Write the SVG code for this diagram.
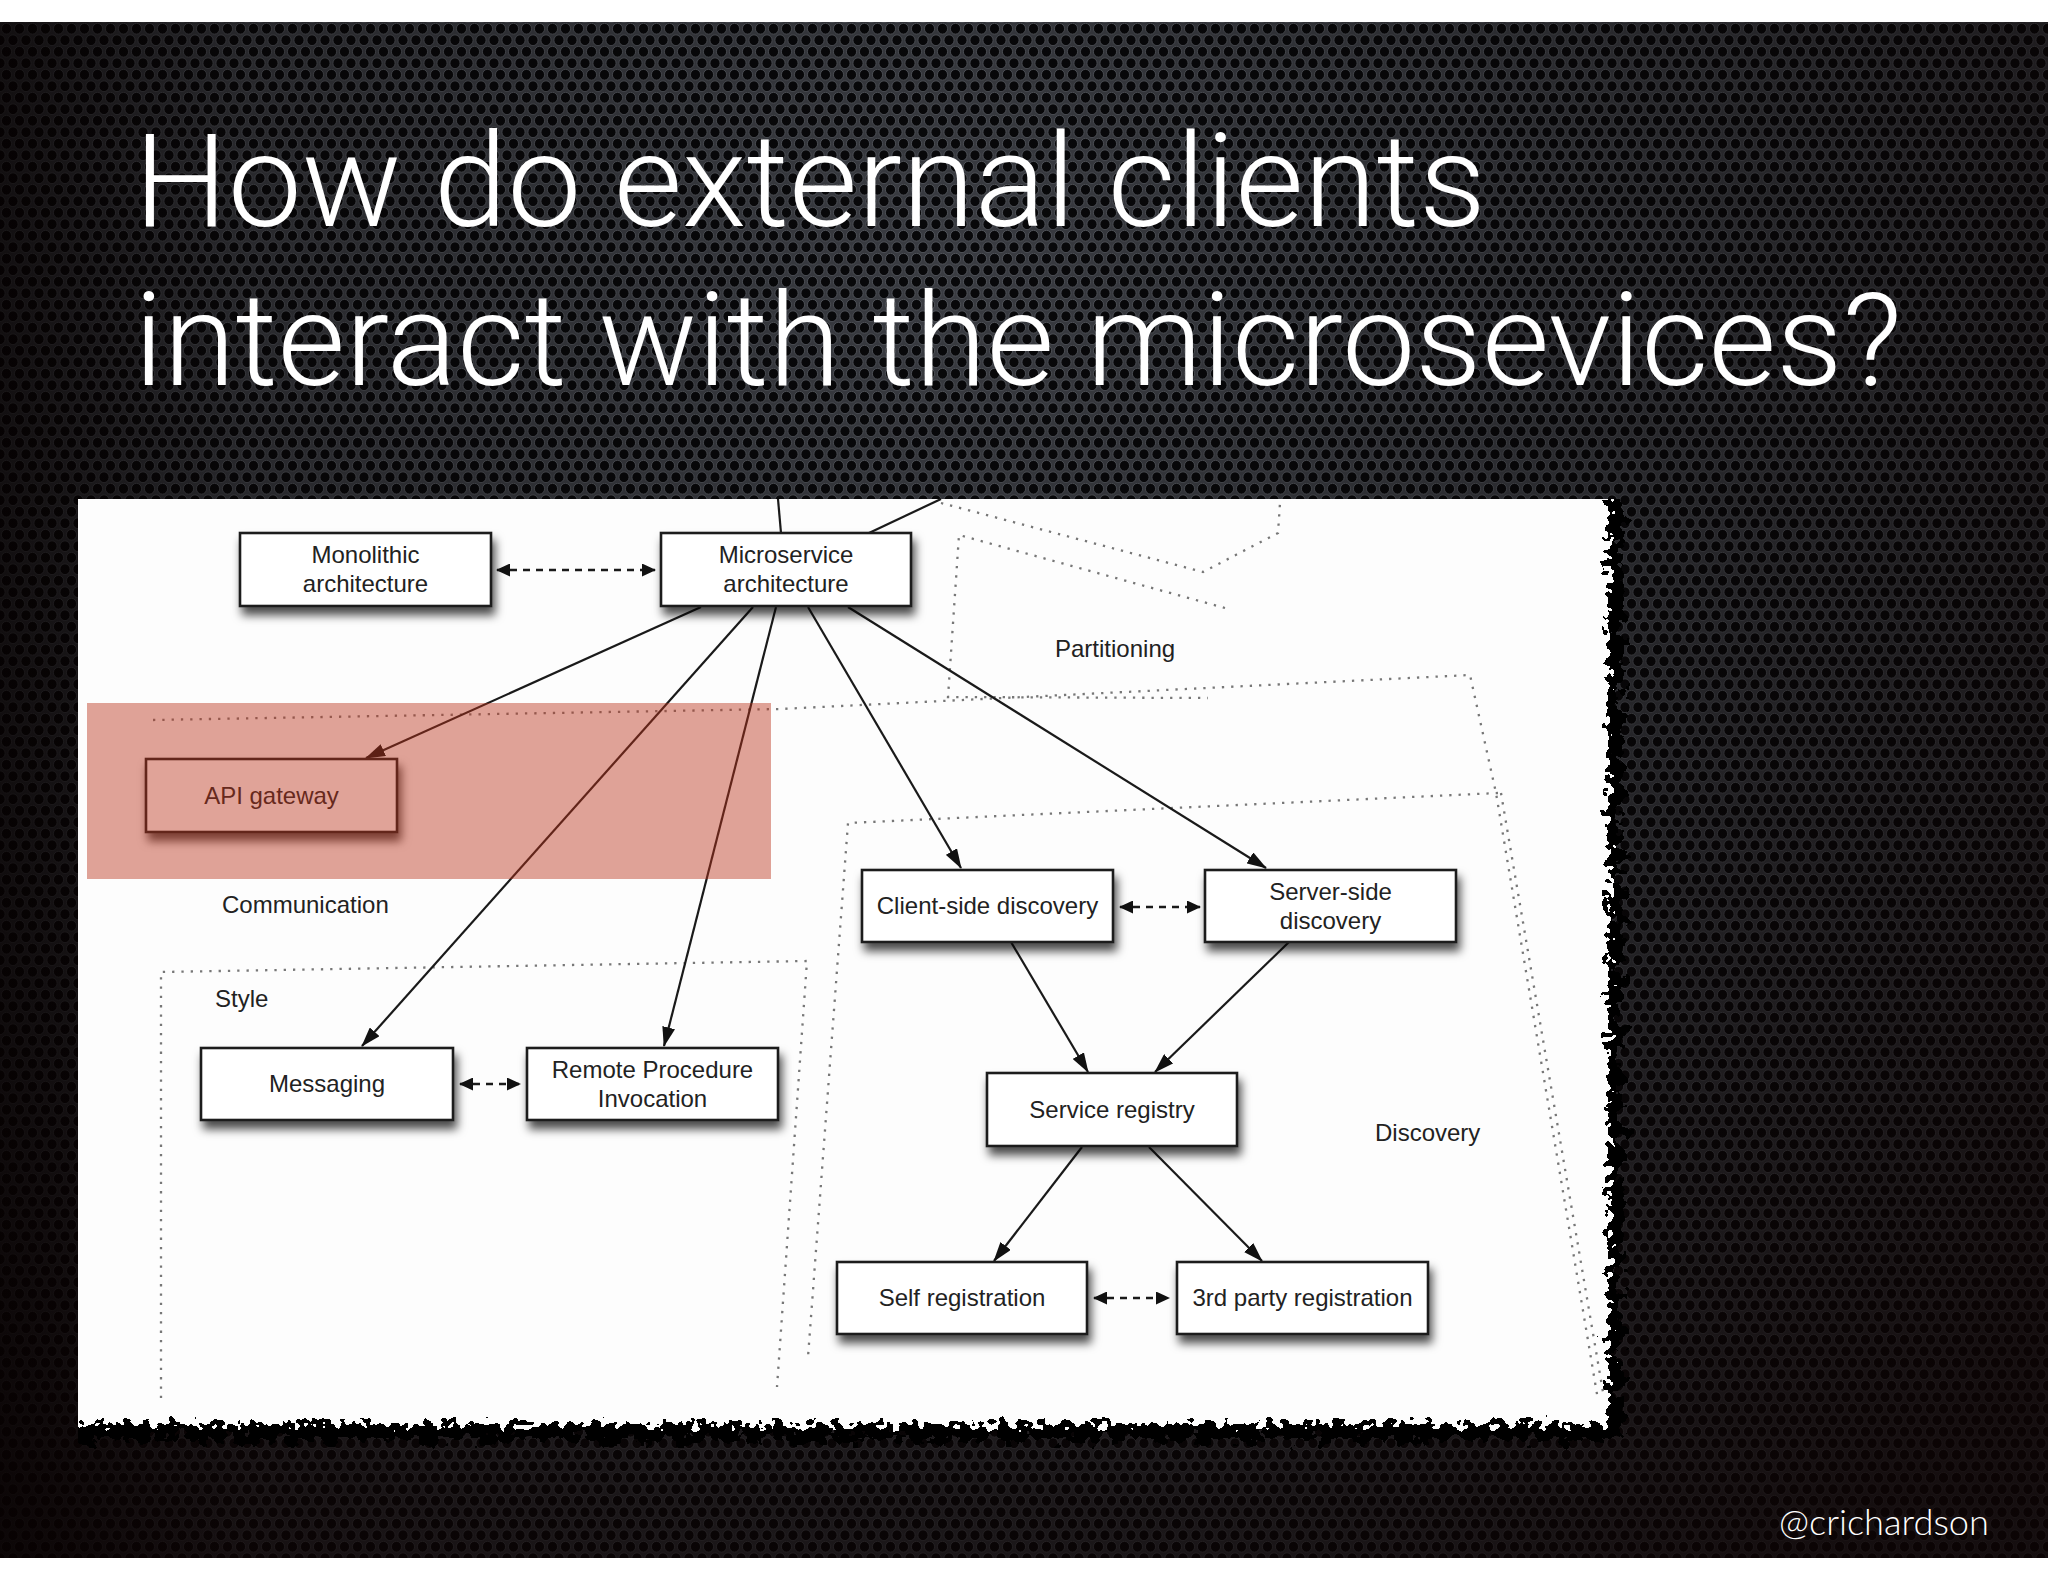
<svg xmlns="http://www.w3.org/2000/svg" width="2048" height="1582" viewBox="0 0 2048 1582">
<style>
.box{fill:#fff;stroke:#1e1e1e;stroke-width:2.6;filter:url(#sh)}
.t{font-family:"Liberation Sans",Arial,sans-serif;font-size:24px;fill:#222;text-anchor:middle}
.lbl{font-family:"Liberation Sans",Arial,sans-serif;font-size:24px;fill:#222}
.ln{fill:none;stroke:#1a1a1a;stroke-width:2.2}
.arr{marker-end:url(#ah)}
.dash{fill:none;stroke:#1a1a1a;stroke-width:2.4;stroke-dasharray:7 6;marker-start:url(#dh);marker-end:url(#dh)}
.dot{fill:none;stroke:#777;stroke-width:2.3;stroke-dasharray:2.3 7}
.title{font-family:Roboto,"Open Sans","Liberation Sans",sans-serif;font-weight:300;font-size:130px;fill:#fff}
</style>
<defs>
<pattern id="mesh" width="13" height="23" patternUnits="userSpaceOnUse">
<rect width="13" height="23" fill="#3a3c42"/>
<ellipse cx="6.5" cy="5.75" rx="5.1" ry="5.4" fill="#08080a" stroke="#55585f" stroke-width="0.9"/>
<ellipse cx="0" cy="17.25" rx="5.1" ry="5.4" fill="#08080a" stroke="#55585f" stroke-width="0.9"/>
<ellipse cx="13" cy="17.25" rx="5.1" ry="5.4" fill="#08080a" stroke="#55585f" stroke-width="0.9"/>
</pattern>
<radialGradient id="shade" cx="950" cy="260" r="1550" gradientUnits="userSpaceOnUse">
<stop offset="0" stop-color="#000" stop-opacity="0"/>
<stop offset="0.55" stop-color="#060202" stop-opacity="0.4"/>
<stop offset="1" stop-color="#0c0303" stop-opacity="0.8"/>
</radialGradient>
<linearGradient id="lside" x1="0" y1="0" x2="1" y2="0">
<stop offset="0" stop-color="#050000" stop-opacity="0.55"/>
<stop offset="0.12" stop-color="#050000" stop-opacity="0"/>
</linearGradient>
<filter id="torn" x="-5%" y="-5%" width="110%" height="110%">
<feTurbulence type="fractalNoise" baseFrequency="0.12" numOctaves="2" seed="4" result="n"/>
<feDisplacementMap in="SourceGraphic" in2="n" scale="30" xChannelSelector="R" yChannelSelector="G"/>
</filter>
<filter id="torn2" x="-5%" y="-5%" width="110%" height="110%">
<feTurbulence type="fractalNoise" baseFrequency="0.08" numOctaves="3" seed="11" result="n"/>
<feDisplacementMap in="SourceGraphic" in2="n" scale="36" xChannelSelector="R" yChannelSelector="G"/>
</filter>
<clipPath id="pc"><rect x="78" y="499" width="1700" height="1000"/></clipPath>
<filter id="sh" x="-10%" y="-20%" width="130%" height="180%">
<feDropShadow dx="3" dy="8" stdDeviation="5" flood-color="#000" flood-opacity="0.7"/>
</filter>
<marker id="ah" viewBox="0 0 20 13" refX="19" refY="6.5" markerWidth="20" markerHeight="13" markerUnits="userSpaceOnUse" orient="auto">
<path d="M0,0 L20,6.5 L0,13 z" fill="#111"/>
</marker>
<marker id="dh" viewBox="0 0 14 13" refX="13" refY="6.5" markerWidth="14" markerHeight="13" markerUnits="userSpaceOnUse" orient="auto-start-reverse">
<path d="M0,0 L14,6.5 L0,13 z" fill="#111"/>
</marker>
</defs>

<g id="background">
<rect width="2048" height="1582" fill="#fff"/>
<rect x="0" y="22" width="2048" height="1536" fill="#1c1c20"/>
<rect x="0" y="22" width="2048" height="1536" fill="url(#mesh)"/>
<rect x="0" y="22" width="2048" height="1536" fill="url(#shade)"/>
<rect x="0" y="22" width="2048" height="1536" fill="url(#lside)"/>
</g>

<g id="paper" clip-path="url(#pc)">
<rect x="40" y="460" width="1582" height="980" fill="#000" filter="url(#torn2)"/>
<rect x="40" y="460" width="1568" height="964" fill="#fdfdfd" filter="url(#torn)"/>
</g>

<g id="regions">
<path class="dot" d="M941,503 L1203,572 L1278,533 L1280,503"/>
<path class="dot" d="M1225,608 L959,535 L948,697 L1208,698"/>
<path class="dot" d="M153,720 L780,709 L1470,675 L1496,793 L1598,1400"/>
<path class="dot" d="M1501,793 L1604,1398"/>
<path class="dot" d="M1498,793 L848,823 L808,1357"/>
<path class="dot" d="M161,1398 L161,972 L807,961 L777,1387"/>
</g>

<g id="connectors">
<path class="ln" d="M778,499 L781,533"/>
<path class="ln" d="M941,499 L869,533"/>
<path class="ln arr" d="M701,607 L366,758"/>
<path class="ln arr" d="M753,607 L362,1046"/>
<path class="ln arr" d="M776,607 L664,1046"/>
<path class="ln arr" d="M808,607 L961,868"/>
<path class="ln arr" d="M848,607 L1266,868"/>
<path class="ln arr" d="M1011,942 L1088,1072"/>
<path class="ln arr" d="M1289,942 L1155,1072"/>
<path class="ln arr" d="M1082,1147 L994,1261"/>
<path class="ln arr" d="M1149,1147 L1262,1261"/>
<path class="dash" d="M497,570 L655,570"/>
<path class="dash" d="M460,1084 L520,1084"/>
<path class="dash" d="M1120,907 L1200,907"/>
<path class="dash" d="M1094,1298 L1169,1298"/>
</g>

<g id="node-monolithic">
<rect class="box" x="240" y="533" width="251" height="73"/>
<text class="t" x="365.5" y="563">Monolithic</text>
<text class="t" x="365.5" y="592">architecture</text>
</g>
<g id="node-microservice">
<rect class="box" x="661" y="533" width="250" height="73"/>
<text class="t" x="786" y="563">Microservice</text>
<text class="t" x="786" y="592">architecture</text>
</g>
<g id="node-api-gateway">
<rect class="box" x="146" y="759" width="251" height="73"/>
<text class="t" x="271.5" y="804">API gateway</text>
</g>
<g id="node-client-side">
<rect class="box" x="862" y="870" width="251" height="72"/>
<text class="t" x="987.5" y="914">Client-side discovery</text>
</g>
<g id="node-server-side">
<rect class="box" x="1205" y="870" width="251" height="72"/>
<text class="t" x="1330.5" y="900">Server-side</text>
<text class="t" x="1330.5" y="929">discovery</text>
</g>
<g id="node-messaging">
<rect class="box" x="201" y="1048" width="252" height="72"/>
<text class="t" x="327" y="1092">Messaging</text>
</g>
<g id="node-rpi">
<rect class="box" x="527" y="1048" width="251" height="72"/>
<text class="t" x="652.5" y="1078">Remote Procedure</text>
<text class="t" x="652.5" y="1107">Invocation</text>
</g>
<g id="node-service-registry">
<rect class="box" x="987" y="1073" width="250" height="73"/>
<text class="t" x="1112" y="1118">Service registry</text>
</g>
<g id="node-self-registration">
<rect class="box" x="837" y="1262" width="250" height="72"/>
<text class="t" x="962" y="1306">Self registration</text>
</g>
<g id="node-third-party">
<rect class="box" x="1177" y="1262" width="251" height="72"/>
<text class="t" x="1302.5" y="1306">3rd party registration</text>
</g>

<g id="labels">
<text class="lbl" x="1055" y="657">Partitioning</text>
<text class="lbl" x="222" y="913">Communication</text>
<text class="lbl" x="215" y="1007">Style</text>
<text class="lbl" x="1375" y="1141">Discovery</text>
</g>

<rect id="highlight" x="87" y="703" width="684" height="176" fill="rgb(187,51,27)" fill-opacity="0.45"/>

<g id="title">
<text class="title" x="134" y="226" textLength="1352" lengthAdjust="spacingAndGlyphs">How do external clients</text>
<text class="title" x="134" y="385" textLength="1768" lengthAdjust="spacingAndGlyphs">interact with the microsevices?</text>
</g>
<text x="1779" y="1535" textLength="210" lengthAdjust="spacingAndGlyphs" style="font-family:Lato,'Open Sans',sans-serif;font-weight:300;font-size:36px;fill:#fff">@crichardson</text>
</svg>
